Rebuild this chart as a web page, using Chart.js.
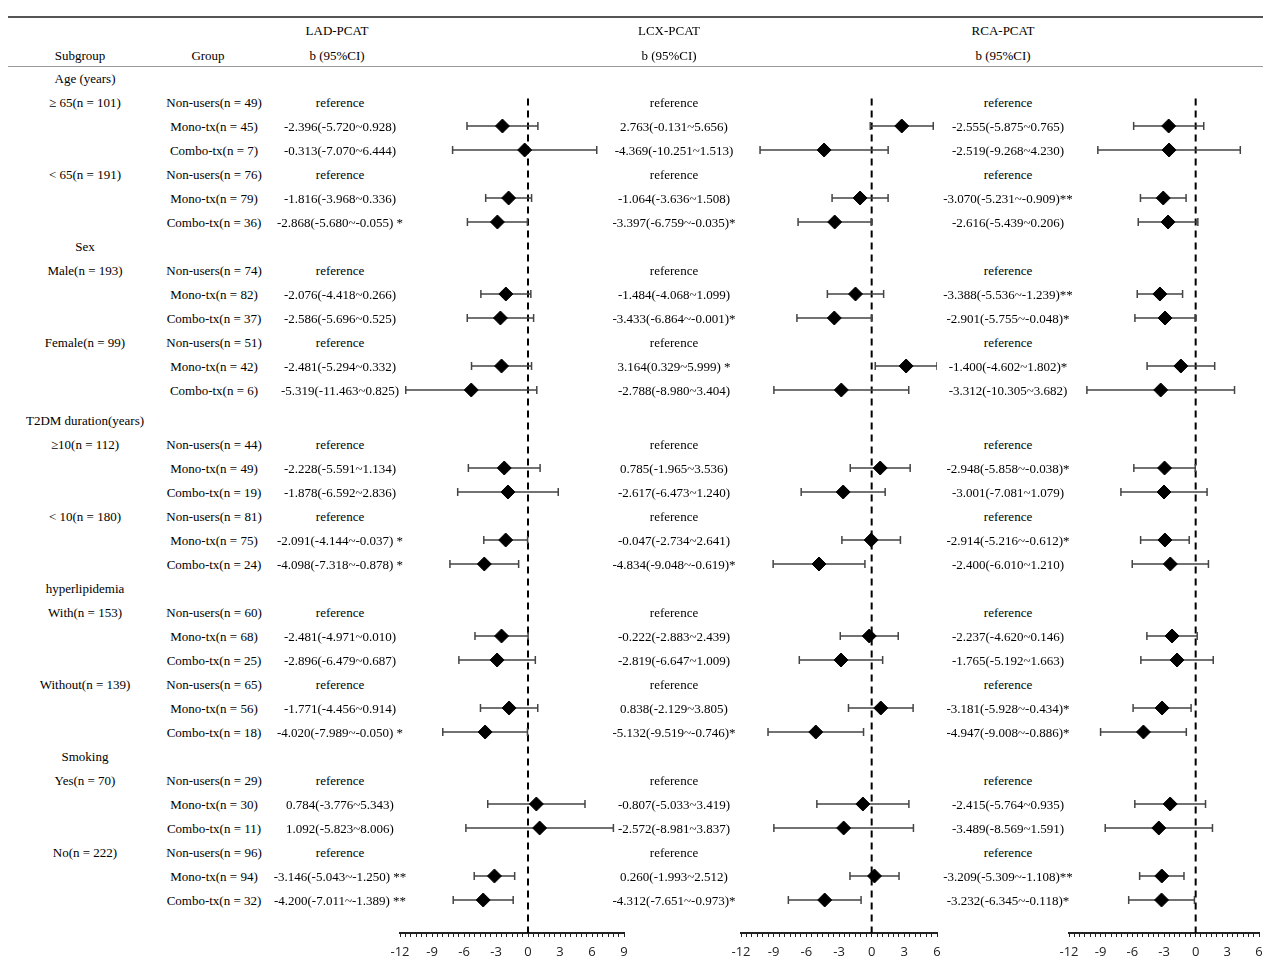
<!DOCTYPE html>
<html>
<head>
<meta charset="utf-8">
<script src="https://cdn.jsdelivr.net/npm/chart.js@4.4.0/dist/chart.umd.min.js"></script>
<style>
body { margin: 0; width: 1263px; height: 963px; overflow: hidden; background: #fff; position: relative;
       font-family: "Liberation Serif", "Times New Roman", serif; font-size: 13px; color: #000; }
.t { position: absolute; white-space: nowrap; transform: translate(-50%, -50%); line-height: 1; }
.hline { position: absolute; left: 8px; right: 0; }
canvas { position: absolute; top: 0; }
</style>
</head>
<body>
<div class="hline" style="top:16px;height:2px;background:#555"></div>
<div class="hline" style="top:66px;height:1px;background:#999"></div>
<canvas id="lad" width="264" height="963" style="left:380px"></canvas>
<canvas id="lcx" width="236" height="963" style="left:721px"></canvas>
<canvas id="rca" width="230" height="963" style="left:1049px"></canvas>
<div id="txt"></div>
<script>
// table rows
const categories = ['Age (years)', 'Sex', 'T2DM duration(years)', 'hyperlipidemia', 'Smoking'];
const subgroups = ['≥ 65(n = 101)', '< 65(n = 191)', 'Male(n = 193)', 'Female(n = 99)', '≥10(n = 112)',
                   '< 10(n = 180)', 'With(n = 153)', 'Without(n = 139)', 'Yes(n = 70)', 'No(n = 222)'];
const groupNames = ['Non-users', 'Mono-tx', 'Combo-tx'];
const nNonUsers = [49, 76, 74, 51, 44, 81, 60, 65, 29, 96];
const nMono = [45, 79, 82, 42, 49, 75, 68, 56, 30, 94];
const nCombo = [7, 36, 37, 6, 19, 24, 25, 18, 11, 32];

// b and 95% CI, order: mono, combo for each subgroup
const ladB = [-2.396, -0.313, -1.816, -2.868, -2.076, -2.586, -2.481, -5.319, -2.228, -1.878,
              -2.091, -4.098, -2.481, -2.896, -1.771, -4.020, 0.784, 1.092, -3.146, -4.200];
const ladLo = [-5.720, -7.070, -3.968, -5.680, -4.418, -5.696, -5.294, -11.463, -5.591, -6.592,
               -4.144, -7.318, -4.971, -6.479, -4.456, -7.989, -3.776, -5.823, -5.043, -7.011];
const ladHi = [0.928, 6.444, 0.336, -0.055, 0.266, 0.525, 0.332, 0.825, 1.134, 2.836,
               -0.037, -0.878, 0.010, 0.687, 0.914, -0.050, 5.343, 8.006, -1.250, -1.389];
const ladSig = ['', '', '', ' *', '', '', '', '', '', '', ' *', ' *', '', '', '', ' *', '', '', ' **', ' **'];

const lcxB = [2.763, -4.369, -1.064, -3.397, -1.484, -3.433, 3.164, -2.788, 0.785, -2.617,
              -0.047, -4.834, -0.222, -2.819, 0.838, -5.132, -0.807, -2.572, 0.260, -4.312];
const lcxLo = [-0.131, -10.251, -3.636, -6.759, -4.068, -6.864, 0.329, -8.980, -1.965, -6.473,
               -2.734, -9.048, -2.883, -6.647, -2.129, -9.519, -5.033, -8.981, -1.993, -7.651];
const lcxHi = [5.656, 1.513, 1.508, -0.035, 1.099, -0.001, 5.999, 3.404, 3.536, 1.240,
               2.641, -0.619, 2.439, 1.009, 3.805, -0.746, 3.419, 3.837, 2.512, -0.973];
const lcxSig = ['', '', '', '*', '', '*', ' *', '', '', '', '', '*', '', '', '', '*', '', '', '', '*'];

const rcaB = [-2.555, -2.519, -3.070, -2.616, -3.388, -2.901, -1.400, -3.312, -2.948, -3.001,
              -2.914, -2.400, -2.237, -1.765, -3.181, -4.947, -2.415, -3.489, -3.209, -3.232];
const rcaLo = [-5.875, -9.268, -5.231, -5.439, -5.536, -5.755, -4.602, -10.305, -5.858, -7.081,
               -5.216, -6.010, -4.620, -5.192, -5.928, -9.008, -5.764, -8.569, -5.309, -6.345];
const rcaHi = [0.765, 4.230, -0.909, 0.206, -1.239, -0.048, 1.802, 3.682, -0.038, 1.079,
               -0.612, 1.210, 0.146, 1.663, -0.434, -0.886, 0.935, 1.591, -1.108, -0.118];
const rcaSig = ['', '', '**', '', '**', '*', '*', '', '*', '', '*', '', '', '', '*', '*', '', '', '**', '*'];

// row index of a category / group line (T2DM block sits a little lower)
function catRow(c) { return c * 7 + (c >= 2 ? 0.25 : 0); }
function rowOf(s, k) { return catRow(Math.floor(s / 2)) + 1 + 3 * (s % 2) + k; }

function makePanel(id, xMin, xMax, b, lo, hi) {
    let whisker = [], caps = [], points = [];
    for (let i = 0; i < b.length; i++) {
        let row = rowOf(Math.floor(i / 2), 1 + i % 2);
        whisker.push({x: lo[i], y: row}, {x: hi[i], y: row}, {x: null, y: null});
        caps.push({x: lo[i], y: row}, {x: hi[i], y: row});
        points.push({x: b[i], y: row});
    }
    return new Chart(document.getElementById(id), {
        type: 'scatter',
        data: {
            datasets: [
                {data: points, pointStyle: 'rectRot', pointRadius: 7, pointBackgroundColor: '#000',
                 pointBorderColor: '#000', pointBorderWidth: 1, order: 1},
                {data: caps, pointStyle: 'line', pointRotation: 90, pointRadius: 4,
                 pointBorderColor: '#444', pointBorderWidth: 1.5, order: 2},
                {type: 'line', data: whisker, borderColor: '#444', borderWidth: 1.5, pointRadius: 0,
                 spanGaps: false, order: 3},
                {type: 'line', data: [{x: 0, y: 0.85}, {x: 0, y: 35.625}], borderColor: '#000', borderWidth: 2,
                 borderDash: [7, 5], pointRadius: 0, order: 4}
            ]
        },
        options: {
            responsive: false,
            animation: false,
            events: [],
            layout: {padding: {top: 54, bottom: 0, left: 20, right: 20}},
            plugins: {legend: {display: false}, tooltip: {enabled: false}},
            scales: {
                x: {
                    type: 'linear', min: xMin, max: xMax,
                    afterFit: (s) => { s.height = 30; },
                    ticks: {
                        stepSize: 0.5, autoSkip: false, maxRotation: 0, padding: 7, color: '#222',
                        font: {family: '"Open Sans", sans-serif', size: 13},
                        callback: (v) => v % 3 === 0 ? String(v) : ''
                    },
                    grid: {drawOnChartArea: false, drawTicks: true, tickLength: 4, color: '#222', lineWidth: 1},
                    border: {display: true, color: '#222', width: 2}
                },
                y: {type: 'linear', display: false, reverse: true, min: -1, max: 35.625}
            }
        }
    });
}

const lad = makePanel('lad', -12, 9, ladB, ladLo, ladHi);
makePanel('lcx', -12, 6, lcxB, lcxLo, lcxHi);
makePanel('rca', -12, 6, rcaB, rcaLo, rcaHi);

function fmt(b, lo, hi, sig) {
    return b.toFixed(3) + '(' + lo.toFixed(3) + '~' + hi.toFixed(3) + ')' + sig;
}

let box = document.getElementById('txt');
function put(text, x, y) {
    let d = document.createElement('div');
    d.className = 't';
    d.style.left = x + 'px';
    d.style.top = y + 'px';
    d.textContent = text;
    box.appendChild(d);
}

// header
put('Subgroup', 80, 55);
put('Group', 208, 55);
put('LAD-PCAT', 337, 30);
put('b (95%CI)', 337, 55);
put('LCX-PCAT', 669, 30);
put('b (95%CI)', 669, 55);
put('RCA-PCAT', 1003, 30);
put('b (95%CI)', 1003, 55);

let ys = lad.scales.y;
categories.forEach((c, i) => put(c, 85, ys.getPixelForValue(catRow(i))));
let ns = [nNonUsers, nMono, nCombo];
subgroups.forEach((s, i) => {
    put(s, 85, ys.getPixelForValue(rowOf(i, 0)));
    for (let k = 0; k < 3; k++) {
        let y = ys.getPixelForValue(rowOf(i, k));
        put(groupNames[k] + '(n = ' + ns[k][i] + ')', 214, y);
        if (k === 0) {
            put('reference', 340, y);
            put('reference', 674, y);
            put('reference', 1008, y);
        } else {
            let j = i * 2 + k - 1;
            put(fmt(ladB[j], ladLo[j], ladHi[j], ladSig[j]), 340, y);
            put(fmt(lcxB[j], lcxLo[j], lcxHi[j], lcxSig[j]), 674, y);
            put(fmt(rcaB[j], rcaLo[j], rcaHi[j], rcaSig[j]), 1008, y);
        }
    }
});
</script>
</body>
</html>
